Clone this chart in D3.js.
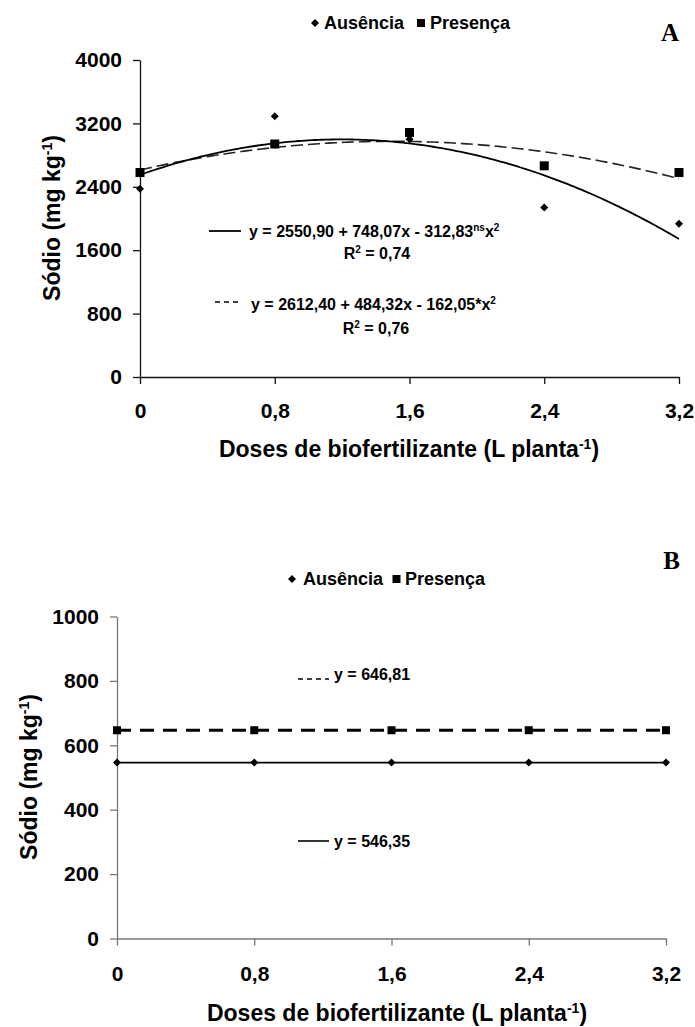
<!DOCTYPE html>
<html>
<head>
<meta charset="utf-8">
<script src="https://cdn.jsdelivr.net/npm/d3@7"></script>
<style>
  html, body { margin: 0; padding: 0; background: #fff; }
  svg { display: block; }
  text { font-family: "Liberation Sans", Arial, sans-serif; font-weight: bold; fill: #000; }
  .panel-letter { font-family: "Liberation Serif", "Times New Roman", serif; font-weight: bold; }
</style>
</head>
<body>
<svg id="chart" width="695" height="1027"></svg>
<script>
// Doses of biofertilizer (L per plant)
const doses = [0, 0.8, 1.6, 2.4, 3.2];
const doseLabels = ["0", "0,8", "1,6", "2,4", "3,2"];

// Panel A – sodium (mg kg-1), observed means
const ausenciaA = [2375, 3290, 3000, 2140, 1935];
const presencaA = [2580, 2940, 3085, 2665, 2580];
// Quadratic fits: b0 + b1*x + b2*x^2
const fitAusenciaA = [2550.90, 748.07, -312.83];
const fitPresencaA = [2612.40, 484.32, -162.05];
const yTicksA = [0, 800, 1600, 2400, 3200, 4000];

// Panel B – sodium (mg kg-1), constant means
const ausenciaB = [546.35, 546.35, 546.35, 546.35, 546.35];
const presencaB = [646.81, 646.81, 646.81, 646.81, 646.81];
const yTicksB = [0, 200, 400, 600, 800, 1000];

const svg = d3.select("#chart");

function quad(c, x) { return c[0] + c[1] * x + c[2] * x * x; }

function diamond(g, x, y, r) {
  g.append("path")
    .attr("d", `M${x},${y - r}L${x + r},${y}L${x},${y + r}L${x - r},${y}Z`)
    .attr("fill", "#000");
}
function square(g, x, y, s) {
  g.append("rect").attr("x", x - s / 2).attr("y", y - s / 2)
    .attr("width", s).attr("height", s).attr("fill", "#000");
}

function legend(g, cy, xs) {
  diamond(g, xs[0], cy, 4);
  g.append("text").attr("x", xs[1]).attr("y", cy + 6).style("font-size", "18px").text("Ausência");
  square(g, xs[2], cy, 8);
  g.append("text").attr("x", xs[3]).attr("y", cy + 6).style("font-size", "18px").text("Presença");
}

function yTitle(g, x, y) {
  const t = g.append("text")
    .attr("transform", `translate(${x},${y}) rotate(-90)`)
    .attr("text-anchor", "middle")
    .style("font-size", "23px");
  t.append("tspan").text("Sódio (mg kg");
  t.append("tspan").attr("dy", -8).style("font-size", "14px").text("-1");
  t.append("tspan").attr("dy", 8).text(")");
}

function xTitle(g, x, y) {
  const t = g.append("text")
    .attr("x", x).attr("y", y)
    .attr("text-anchor", "middle")
    .style("font-size", "23px");
  t.append("tspan").text("Doses de biofertilizante (L planta");
  t.append("tspan").attr("dy", -8).style("font-size", "14px").text("-1");
  t.append("tspan").attr("dy", 8).text(")");
}

function axes(g, x, y, yTicks, axisColor, xPad) {
  const xAxis = d3.axisBottom(x).tickValues(doses)
    .tickFormat((d, i) => doseLabels[i]).tickSize(7).tickPadding(xPad).tickSizeOuter(0);
  const yAxis = d3.axisLeft(y).tickValues(yTicks)
    .tickFormat(d => d).tickSize(7).tickPadding(11).tickSizeOuter(0);
  const gx = g.append("g").attr("transform", `translate(0,${y(0)})`).call(xAxis);
  const gy = g.append("g").attr("transform", `translate(${x(0)},0)`).call(yAxis);
  [gx, gy].forEach(a => {
    a.select(".domain").attr("stroke", axisColor).attr("stroke-width", 1.3);
    a.selectAll(".tick line").attr("stroke", axisColor).attr("stroke-width", 1.3);
    a.selectAll(".tick text").style("font-size", "21px")
      .style("font-family", '"Liberation Sans", Arial, sans-serif').style("font-weight", "bold");
  });
}

// ---------------- Panel A ----------------
(function () {
  const g = svg.append("g");
  const x = d3.scaleLinear().domain([0, 3.2]).range([140, 679]);
  const y = d3.scaleLinear().domain([0, 4000]).range([377, 60]);

  legend(g, 23, [315, 324, 421, 430]);
  g.append("text").attr("class", "panel-letter").attr("x", 679).attr("y", 41)
    .attr("text-anchor", "end").style("font-size", "25px").text("A");

  axes(g, x, y, yTicksA, "#111", 19);

  const xs = d3.range(0, 3.2 + 1e-9, 0.02);
  const line = d3.line().x(d => x(d[0])).y(d => y(d[1]));
  g.append("path").datum(xs.map(v => [v, quad(fitPresencaA, v)]))
    .attr("d", line).attr("fill", "none").attr("stroke", "#222")
    .attr("stroke-width", 1.6).attr("stroke-dasharray", "12,5");
  g.append("path").datum(xs.map(v => [v, quad(fitAusenciaA, v)]))
    .attr("d", line).attr("fill", "none").attr("stroke", "#000").attr("stroke-width", 1.8);

  doses.forEach((d, i) => diamond(g, x(d), y(ausenciaA[i]), 4));
  doses.forEach((d, i) => square(g, x(d), y(presencaA[i]), 9));

  // Equation boxes
  g.append("line").attr("x1", 209).attr("x2", 241).attr("y1", 231).attr("y2", 231)
    .attr("stroke", "#000").attr("stroke-width", 1.8);
  const e1 = g.append("text").attr("x", 249).attr("y", 237).style("font-size", "16px");
  e1.append("tspan").text("y = 2550,90 + 748,07x - 312,83");
  e1.append("tspan").attr("dy", -6).style("font-size", "10px").text("ns");
  e1.append("tspan").attr("dy", 6).text("x");
  e1.append("tspan").attr("dy", -6).style("font-size", "10px").text("2");
  const r1 = g.append("text").attr("x", 377).attr("y", 259).attr("text-anchor", "middle").style("font-size", "16px");
  r1.append("tspan").text("R");
  r1.append("tspan").attr("dy", -6).style("font-size", "10px").text("2");
  r1.append("tspan").attr("dy", 6).text(" = 0,74");

  g.append("line").attr("x1", 215).attr("x2", 241).attr("y1", 302).attr("y2", 302)
    .attr("stroke", "#000").attr("stroke-width", 1.4).attr("stroke-dasharray", "5,4");
  const e2 = g.append("text").attr("x", 251).attr("y", 310).style("font-size", "16px");
  e2.append("tspan").text("y = 2612,40 + 484,32x - 162,05*x");
  e2.append("tspan").attr("dy", -6).style("font-size", "10px").text("2");
  const r2 = g.append("text").attr("x", 376).attr("y", 334).attr("text-anchor", "middle").style("font-size", "16px");
  r2.append("tspan").text("R");
  r2.append("tspan").attr("dy", -6).style("font-size", "10px").text("2");
  r2.append("tspan").attr("dy", 6).text(" = 0,76");

  yTitle(g, 60, 218);
  xTitle(g, 409, 457);
})();

// ---------------- Panel B ----------------
(function () {
  const g = svg.append("g");
  const x = d3.scaleLinear().domain([0, 3.2]).range([117, 666]);
  const y = d3.scaleLinear().domain([0, 1000]).range([938.5, 616.5]);

  legend(g, 579, [292, 303, 396.5, 405]);
  g.append("text").attr("class", "panel-letter").attr("x", 680).attr("y", 569)
    .attr("text-anchor", "end").style("font-size", "25px").text("B");

  axes(g, x, y, yTicksB, "#777", 21);

  const line = d3.line().x((d, i) => x(doses[i])).y(d => y(d));
  g.append("path").datum(presencaB).attr("d", line).attr("fill", "none")
    .attr("stroke", "#000").attr("stroke-width", 3).attr("stroke-dasharray", "14,9");
  g.append("path").datum(ausenciaB).attr("d", line).attr("fill", "none")
    .attr("stroke", "#000").attr("stroke-width", 1.8);

  doses.forEach((d, i) => diamond(g, x(d), y(ausenciaB[i]), 4));
  doses.forEach((d, i) => square(g, x(d), y(presencaB[i]), 8));

  g.append("line").attr("x1", 298).attr("x2", 329).attr("y1", 679).attr("y2", 679)
    .attr("stroke", "#000").attr("stroke-width", 1.4).attr("stroke-dasharray", "5,4");
  g.append("text").attr("x", 334).attr("y", 680).style("font-size", "16px").text("y = 646,81");
  g.append("line").attr("x1", 298).attr("x2", 329).attr("y1", 841).attr("y2", 841)
    .attr("stroke", "#000").attr("stroke-width", 1.6);
  g.append("text").attr("x", 334).attr("y", 847).style("font-size", "16px").text("y = 546,35");

  yTitle(g, 37, 777);
  xTitle(g, 397, 1021);
})();
</script>
</body>
</html>
